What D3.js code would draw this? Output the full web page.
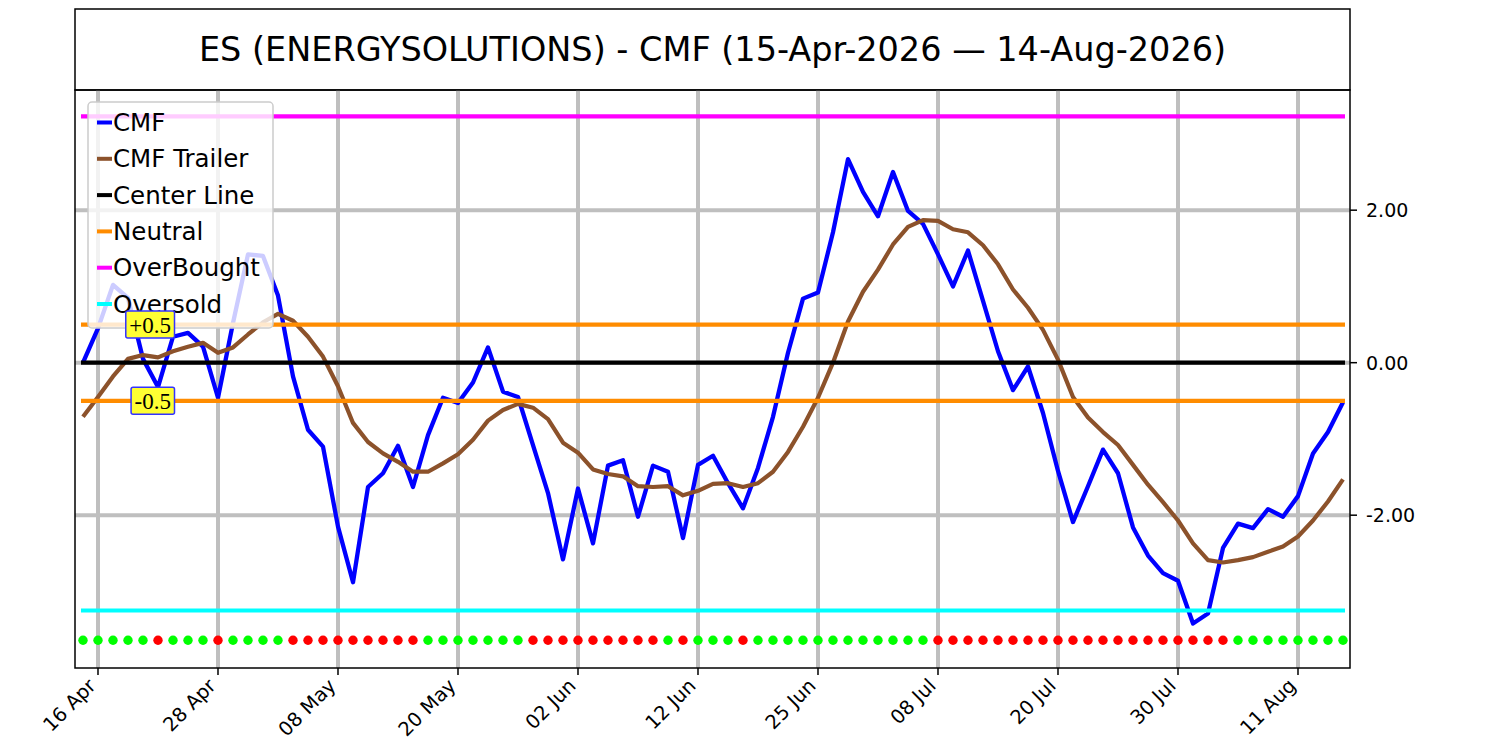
<!DOCTYPE html>
<html>
<head>
<meta charset="utf-8">
<script src="https://cdn.jsdelivr.net/npm/d3@7"></script>
<style>
  html, body { margin: 0; padding: 0; background: #fff; }
  svg { display: block; }
</style>
</head>
<body>
<svg id="chart" width="1500" height="750"></svg>
<script>
// ---------------- DATA ----------------
const titleText = "ES (ENERGYSOLUTIONS) - CMF (15-Apr-2026 \u2014 14-Aug-2026)";

const dates = [
  "2026-04-15","2026-04-16","2026-04-17","2026-04-20","2026-04-21","2026-04-22","2026-04-23","2026-04-24","2026-04-27","2026-04-28","2026-04-29","2026-04-30",
  "2026-05-01","2026-05-04","2026-05-05","2026-05-06","2026-05-07","2026-05-08","2026-05-11","2026-05-12","2026-05-13","2026-05-14","2026-05-15","2026-05-18","2026-05-19","2026-05-20","2026-05-21","2026-05-22","2026-05-26","2026-05-27","2026-05-28","2026-05-29",
  "2026-06-01","2026-06-02","2026-06-03","2026-06-04","2026-06-05","2026-06-08","2026-06-09","2026-06-10","2026-06-11","2026-06-12","2026-06-15","2026-06-16","2026-06-17","2026-06-18","2026-06-22","2026-06-23","2026-06-24","2026-06-25","2026-06-26","2026-06-29","2026-06-30",
  "2026-07-01","2026-07-02","2026-07-06","2026-07-07","2026-07-08","2026-07-09","2026-07-10","2026-07-13","2026-07-14","2026-07-15","2026-07-16","2026-07-17","2026-07-20","2026-07-21","2026-07-22","2026-07-23","2026-07-24","2026-07-27","2026-07-28","2026-07-29","2026-07-30","2026-07-31",
  "2026-08-03","2026-08-04","2026-08-05","2026-08-06","2026-08-07","2026-08-10","2026-08-11","2026-08-12","2026-08-13","2026-08-14"
];

const cmf = [
  0.00, 0.45, 1.02, 0.85, 0.05, -0.32, 0.34, 0.39, 0.21, -0.46, 0.52, 1.42,
  1.40, 0.88, -0.18, -0.88, -1.10, -2.15, -2.88, -1.63, -1.45, -1.09, -1.63, -0.95, -0.46, -0.53, -0.26, 0.20, -0.38, -0.45, -1.08, -1.71,
  -2.58, -1.65, -2.37, -1.35, -1.28, -2.02, -1.35, -1.43, -2.30, -1.34, -1.22, -1.58, -1.91, -1.38, -0.71, 0.13, 0.84, 0.92, 1.71, 2.67, 2.24,
  1.92, 2.50, 1.99, 1.82, 1.42, 1.00, 1.47, 0.81, 0.15, -0.36, -0.05, -0.66, -1.42, -2.09, -1.62, -1.14, -1.45, -2.16, -2.53, -2.76, -2.86, -3.42,
  -3.29, -2.43, -2.11, -2.17, -1.92, -2.02, -1.75, -1.19, -0.91, -0.52
];

const cmfTrailer = [
  -0.71, -0.45, -0.18, 0.05, 0.10, 0.07, 0.15, 0.21, 0.26, 0.13, 0.20, 0.37,
  0.53, 0.64, 0.55, 0.34, 0.08, -0.31, -0.79, -1.04, -1.19, -1.30, -1.43, -1.43, -1.32, -1.20, -1.01, -0.76, -0.62, -0.54, -0.59, -0.74,
  -1.05, -1.18, -1.40, -1.46, -1.49, -1.62, -1.63, -1.62, -1.74, -1.68, -1.59, -1.58, -1.63, -1.58, -1.43, -1.17, -0.84, -0.46, 0.00, 0.54, 0.93,
  1.22, 1.55, 1.78, 1.87, 1.86, 1.75, 1.71, 1.54, 1.29, 0.96, 0.72, 0.43, 0.04, -0.45, -0.72, -0.91, -1.08, -1.34, -1.60, -1.83, -2.07, -2.37,
  -2.59, -2.62, -2.59, -2.55, -2.48, -2.41, -2.28, -2.07, -1.82, -1.53
];

// 1 = bullish (green dot), -1 = bearish (red dot)
const signal = [
  1,1,1,1,1,-1,1,1,1,-1,1,1,
  1,1,-1,-1,-1,-1,-1,-1,-1,-1,-1,1,1,1,1,1,1,1,-1,-1,
  -1,-1,-1,-1,-1,-1,-1,1,-1,1,1,1,-1,1,1,1,1,1,1,1,1,
  1,1,1,1,-1,-1,-1,-1,-1,-1,-1,-1,-1,-1,-1,-1,-1,-1,-1,-1,-1,-1,
  -1,-1,1,1,1,1,1,1,1,1
];

const centerLevel = 0;
const neutralLevels = [0.5, -0.5];
const overBought = 3.23;
const overSold = -3.25;
const signalLevel = -3.64;
const yTickValues = [-2, 0, 2];
const xTickIndices = [1, 9, 17, 25, 33, 41, 49, 57, 65, 73, 81];
const neutralLabels = ["+0.5", "-0.5"];

const legendItems = [
  { name: "CMF", color: "#0000ff" },
  { name: "CMF Trailer", color: "#8c522b" },
  { name: "Center Line", color: "#000000" },
  { name: "Neutral", color: "#ff8c00" },
  { name: "OverBought", color: "#ff00ff" },
  { name: "Oversold", color: "#00ffff" }
];

// ---------------- LAYOUT ----------------
const svg = d3.select("#chart");
const L = 75, R = 1350, T = 90, B = 668;
const titleTop = 9;

const parse = d3.timeParse("%Y-%m-%d");
const fmt = d3.timeFormat("%d %b");
const dateObjs = dates.map(parse);

const x = d3.scaleLinear().domain([-0.533, dates.length - 1 + 0.467]).range([L, R]);
const y = d3.scaleLinear().domain([-4.004, 3.576]).range([B, T]);

// Title box
svg.append("rect").attr("x", L).attr("y", titleTop).attr("width", R - L).attr("height", T - titleTop)
  .attr("fill", "#fff").attr("stroke", "#000").attr("stroke-width", 1.5);
svg.append("text").attr("x", (L + R) / 2).attr("y", (titleTop + T) / 2)
  .attr("text-anchor", "middle").attr("dominant-baseline", "central")
  .attr("font-family", "DejaVu Sans").attr("font-size", 33.5).attr("fill", "#000")
  .text(titleText);

// Grid
const grid = svg.append("g");
grid.selectAll("line.v").data(xTickIndices).enter().append("line")
  .attr("x1", d => x(d)).attr("x2", d => x(d)).attr("y1", T).attr("y2", B)
  .attr("stroke", "#bfbfbf").attr("stroke-width", 4);
grid.selectAll("line.h").data(yTickValues).enter().append("line")
  .attr("x1", L).attr("x2", R).attr("y1", d => y(d)).attr("y2", d => y(d))
  .attr("stroke", "#bfbfbf").attr("stroke-width", 4);

// Lines
const idx = d3.range(dates.length);
const lineGen = arr => d3.line().x(i => x(i)).y(i => y(arr[i]))(idx);

svg.append("path").attr("d", lineGen(cmf)).attr("fill", "none")
  .attr("stroke", legendItems[0].color).attr("stroke-width", 4.3).attr("stroke-linejoin", "round");
svg.append("path").attr("d", lineGen(cmfTrailer)).attr("fill", "none")
  .attr("stroke", legendItems[1].color).attr("stroke-width", 4.2).attr("stroke-linejoin", "round");

function hline(v, color) {
  svg.append("line")
    .attr("x1", x(0) - 2).attr("x2", x(dates.length - 1) + 2)
    .attr("y1", y(v)).attr("y2", y(v))
    .attr("stroke", color).attr("stroke-width", 4.2);
}
hline(centerLevel, legendItems[2].color);
neutralLevels.forEach(v => hline(v, legendItems[3].color));
hline(overBought, legendItems[4].color);
hline(overSold, legendItems[5].color);

// Signal dots
svg.append("g").selectAll("circle").data(idx).enter().append("circle")
  .attr("cx", i => x(i)).attr("cy", y(signalLevel)).attr("r", 4.7)
  .attr("fill", i => signal[i] > 0 ? "#00ff00" : "#ff0000");

// Spines
svg.append("rect").attr("x", L).attr("y", T).attr("width", R - L).attr("height", B - T)
  .attr("fill", "none").attr("stroke", "#000").attr("stroke-width", 1.5);

// Right Y axis
const yAxis = svg.append("g");
yAxis.selectAll("line").data(yTickValues).enter().append("line")
  .attr("x1", R).attr("x2", R + 7).attr("y1", d => y(d)).attr("y2", d => y(d))
  .attr("stroke", "#000").attr("stroke-width", 1.5);
yAxis.selectAll("text").data(yTickValues).enter().append("text")
  .attr("x", R + 16).attr("y", d => y(d)).attr("dominant-baseline", "central")
  .attr("font-family", "DejaVu Sans").attr("font-size", 19).attr("fill", "#000")
  .text(d => d.toFixed(2));

// X axis ticks & labels
const xAxis = svg.append("g");
xAxis.selectAll("line").data(xTickIndices).enter().append("line")
  .attr("x1", d => x(d)).attr("x2", d => x(d)).attr("y1", B).attr("y2", B + 7)
  .attr("stroke", "#000").attr("stroke-width", 1.5);
xAxis.selectAll("text").data(xTickIndices).enter().append("text")
  .attr("transform", d => `translate(${x(d) - 1},${B + 19}) rotate(-45)`)
  .attr("text-anchor", "end")
  .attr("font-family", "DejaVu Sans").attr("font-size", 19.5).attr("fill", "#000")
  .text(d => fmt(dateObjs[d]));

// Legend
const lg = svg.append("g");
lg.append("rect").attr("x", 88).attr("y", 102).attr("width", 185).attr("height", 226).attr("rx", 4)
  .attr("fill", "#fff").attr("fill-opacity", 0.8).attr("stroke", "#cccccc").attr("stroke-width", 1.5);
legendItems.forEach((d, k) => {
  const yy = 122.5 + k * 36.3;
  lg.append("line").attr("x1", 97).attr("x2", 112).attr("y1", yy).attr("y2", yy)
    .attr("stroke", d.color).attr("stroke-width", 4);
  lg.append("text").attr("x", 113).attr("y", yy).attr("dominant-baseline", "central")
    .attr("font-family", "DejaVu Sans").attr("font-size", 24.5).attr("fill", "#000")
    .text(d.name);
});

// Neutral labels (drawn on top of legend)
const labelX = 171;
neutralLevels.forEach((v, k) => {
  const g = svg.append("g");
  const t = g.append("text").attr("x", labelX).attr("y", y(v) + 1)
    .attr("text-anchor", "end").attr("dominant-baseline", "central")
    .attr("font-family", "Liberation Serif").attr("font-size", 23).attr("fill", "#000")
    .text(neutralLabels[k]);
  const bb = t.node().getBBox();
  g.insert("rect", "text").attr("x", bb.x - 3.5).attr("y", y(v) - 13.5)
    .attr("width", bb.width + 7).attr("height", 27).attr("rx", 2)
    .attr("fill", "#ffff33").attr("stroke", "#3333ff").attr("stroke-width", 1.5);
});
</script>
</body>
</html>
